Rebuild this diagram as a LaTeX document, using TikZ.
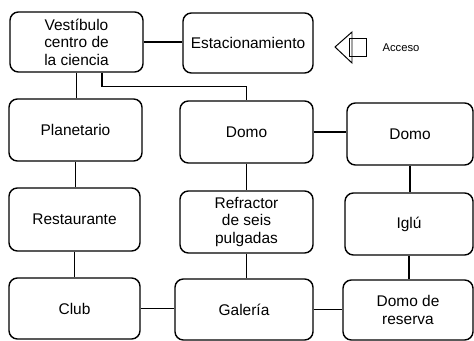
\documentclass[tikz,border=0pt]{standalone}
\usepackage{fontspec}
\setmainfont{Liberation Sans}
\usetikzlibrary{calc}

\begin{document}
\begin{tikzpicture}[x=0.025cm, y=-0.025cm, box/.style={draw, rounded corners=6pt, line width=1pt, align=center, inner sep=2pt, font=\fontsize{11}{12.5}\selectfont}, link/.style={line width=1pt}]
	\useasboundingbox (0,0) rectangle (474,341);
	% first row
	\node[box, minimum width=3.325cm, minimum height=1.5cm] (vest) at (76.5,42) {Vestíbulo\\centro de\\la ciencia};
	\node[box, minimum width=3.25cm, minimum height=1.5cm] (estac) at (248,43) {Estacionamiento};
	\draw[line width=0.7pt] (335,47) -- (352,32) -- (352,63) -- cycle;
	\draw[line width=0.7pt] (349,38) rectangle (366,56);
	\node[font=\fontsize{8}{9}\selectfont] (acceso) at (401,48) {Acceso};
	% second row
	\node[box, minimum width=3.325cm, minimum height=1.55cm] (plan) at (75.5,130) {Planetario};
	\node[box, minimum width=3.325cm, minimum height=1.55cm] (domo1) at (246.5,132) {Domo};
	\node[box, minimum width=3.15cm, minimum height=1.55cm] (domo2) at (410,134) {Domo};
	% third row
	\node[box, minimum width=3.275cm, minimum height=1.575cm] (rest) at (74.5,219.5) {Restaurante};
	\node[box, minimum width=3.325cm, minimum height=1.55cm] (refr) at (246.5,222) {Refractor\\de seis\\pulgadas};
	\node[box, minimum width=3.2cm, minimum height=1.55cm] (iglu) at (409,224) {Iglú};
	% fourth row
	\node[box, minimum width=3.275cm, minimum height=1.525cm] (club) at (74.5,308.5) {Club};
	\node[box, minimum width=3.45cm, minimum height=1.525cm] (gal) at (244,309.5) {Galería};
	\node[box, minimum width=3.25cm, minimum height=1.5cm] (res) at (408,310) {Domo de\\reserva};
	% connectors
	\draw[link] (vest.east) -- (vest.east -| estac.west);
	\draw[link] (vest.south) -- (vest.south |- plan.north);
	\draw[link] ($(vest.south)+(25.5,0)$) -- ++(0,14) -| (domo1.north);
	\draw[link] (domo1.east) -- (domo1.east -| domo2.west);
	\draw[link] (plan.south) -- (plan.south |- rest.north);
	\draw[link] (domo1.south) -- (domo1.south |- refr.north);
	\draw[link] (domo2.south) -- (domo2.south |- iglu.north);
	\draw[link] (rest.south) -- (rest.south |- club.north);
	\draw[link] (refr.south) -- (refr.south |- gal.north);
	\draw[link] (iglu.south) -- (iglu.south |- res.north);
	\draw[link] (club.east) -- (club.east -| gal.west);
	\draw[link] (gal.east) -- (gal.east -| res.west);
\end{tikzpicture}
\end{document}
